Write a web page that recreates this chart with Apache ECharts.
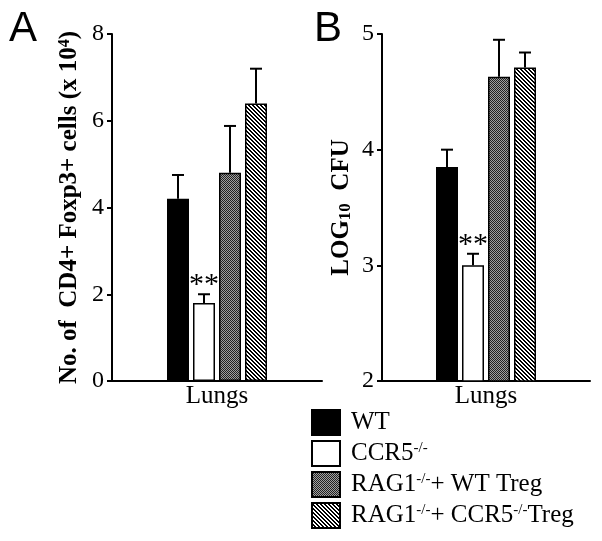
<!DOCTYPE html>
<html>
<head>
<meta charset="utf-8">
<script src="https://cdn.jsdelivr.net/npm/echarts@6/dist/echarts.min.js"></script>
<style>
  html, body { margin: 0; padding: 0; background: #fff; }
  #chart { width: 602px; height: 541px; }
</style>
</head>
<body>
<div id="chart"></div>
<script>
  var categories = ['Lungs'];
  var groups = ['WT', 'CCR5-/-', 'RAG1-/-+ WT Treg', 'RAG1-/-+ CCR5-/-Treg'];
  // panel A: No. of CD4+ Foxp3+ cells (x 10^4)
  var tregMean = [4.2, 1.8, 4.8, 6.4];
  var tregErr = [0.55, 0.2, 1.08, 0.8];
  // panel B: LOG10 CFU
  var cfuMean = [3.85, 3.0, 4.63, 4.71];
  var cfuErr = [0.15, 0.1, 0.32, 0.13];
  var starGroup = 1;

  var serif = 'Liberation Serif';
  var barW = 22, gapPx = 4;

  function dither() {
    var c = document.createElement('canvas');
    c.width = 4; c.height = 4;
    var g = c.getContext('2d');
    g.fillStyle = '#a0a0a0';
    g.fillRect(0, 0, 4, 4);
    g.fillStyle = '#222';
    for (var y = 0; y < 4; y++) {
      for (var x = 0; x < 4; x++) {
        if ((x + y) % 2 === 0 || (y === 3 && x === 1)) g.fillRect(x, y, 1, 1);
      }
    }
    return c;
  }
  function stripes() {
    var c = document.createElement('canvas');
    c.width = 4; c.height = 4;
    var g = c.getContext('2d');
    g.fillStyle = '#fff';
    g.fillRect(0, 0, 4, 4);
    g.fillStyle = '#000';
    for (var i = 0; i < 4; i++) {
      g.fillRect(i, i, 1, 1);
      g.fillRect(i, (i + 1) % 4, 1, 1);
    }
    return c;
  }

  var fills = [
    '#000',
    '#fff',
    { image: dither(), repeat: 'repeat' },
    { image: stripes(), repeat: 'repeat' }
  ];

  function barSeries(data, axisIdx) {
    return groups.map(function (name, i) {
      return {
        name: name,
        type: 'bar',
        xAxisIndex: axisIdx,
        yAxisIndex: axisIdx,
        barWidth: barW,
        barGap: (gapPx / barW * 100) + '%',
        data: [data[i]],
        itemStyle: { color: fills[i], borderColor: '#000', borderWidth: 1.5 },
        silent: true
      };
    });
  }

  function errSeries(mean, err, axisIdx) {
    return {
      type: 'custom',
      xAxisIndex: axisIdx,
      yAxisIndex: axisIdx,
      silent: true,
      z: 5,
      data: mean.map(function (m, i) { return [0, m, m + err[i], i]; }),
      renderItem: function (params, api) {
        var idx = api.value(3);
        var off = (idx - (groups.length - 1) / 2) * (barW + gapPx);
        var base = api.coord([api.value(0), api.value(1)]);
        var top = api.coord([api.value(0), api.value(2)]);
        var x = base[0] + off;
        var children = [
          { type: 'line', shape: { x1: x, y1: base[1], x2: x, y2: top[1] }, style: { stroke: '#000', lineWidth: 2 } },
          { type: 'line', shape: { x1: x - 6, y1: top[1], x2: x + 6, y2: top[1] }, style: { stroke: '#000', lineWidth: 2 } }
        ];
        if (idx === starGroup) {
          children.push({
            type: 'text',
            style: { text: '**', x: x, y: top[1] + 6, align: 'center', verticalAlign: 'bottom',
              font: '30px "Liberation Serif"', fill: '#000' }
          });
        }
        return { type: 'group', children: children };
      }
    };
  }

  var axisLine = { show: true, lineStyle: { color: '#000', width: 2 } };
  var letterStyle = { fontFamily: 'Liberation Sans', fontWeight: 'normal', fontSize: 42, color: '#000' };

  var chart = echarts.init(document.getElementById('chart'));
  chart.setOption({
    animation: false,
    backgroundColor: '#fff',
    title: [
      { text: 'A', left: 4, top: 3, textStyle: letterStyle },
      { text: 'B', left: 309, top: 3, textStyle: letterStyle }
    ],
    grid: [
      { left: 112, top: 34, right: 280, bottom: 160 },
      { left: 382, top: 34, right: 12, bottom: 160 }
    ],
    legend: {
      orient: 'vertical',
      left: 311,
      top: 409,
      bottom: 0,
      padding: 0,
      itemWidth: 28,
      itemHeight: 25,
      itemGap: 4,
      icon: 'rect',
      selectedMode: false,
      data: groups,
      formatter: function (name) {
        return name.replace(/-\/-/g, '{sup|-/-}');
      },
      textStyle: {
        fontFamily: serif,
        fontSize: 25,
        lineHeight: 25,
        color: '#000',
        padding: [0, 0, 0, 6],
        rich: {
          sup: { fontFamily: serif, fontSize: 15, color: '#000', verticalAlign: 'top', lineHeight: 15 }
        }
      }
    },
    xAxis: [0, 1].map(function (i) {
      return {
        type: 'category',
        gridIndex: i,
        data: categories,
        axisLine: axisLine,
        axisTick: { show: false },
        axisLabel: { fontFamily: serif, fontSize: 25, color: '#000', margin: 3 }
      };
    }),
    yAxis: [
      {
        type: 'value', gridIndex: 0, min: 0, max: 8, interval: 2,
        name: 'No. of  CD4+ Foxp3+ cells (x 10{sup|4})',
        nameLocation: 'middle', nameRotate: 90, nameGap: 30,
        nameTextStyle: {
          fontFamily: serif, fontWeight: 'bold', fontSize: 25, color: '#000',
          rich: { sup: { fontFamily: serif, fontWeight: 'bold', fontSize: 16, color: '#000', verticalAlign: 'top', lineHeight: 14 } }
        },
        axisLine: axisLine,
        axisTick: { show: true, length: 5, lineStyle: { color: '#000', width: 2 } },
        axisLabel: { fontFamily: serif, fontSize: 24, color: '#000', margin: 8 },
        splitLine: { show: false }
      },
      {
        type: 'value', gridIndex: 1, min: 2, max: 5, interval: 1,
        name: 'LOG{sub|10}  CFU',
        nameLocation: 'middle', nameRotate: 90, nameGap: 28,
        nameTextStyle: {
          fontFamily: serif, fontWeight: 'bold', fontSize: 25, color: '#000',
          rich: { sub: { fontFamily: serif, fontWeight: 'bold', fontSize: 17, color: '#000', verticalAlign: 'bottom', lineHeight: 17 } }
        },
        axisLine: axisLine,
        axisTick: { show: true, length: 5, lineStyle: { color: '#000', width: 2 } },
        axisLabel: { fontFamily: serif, fontSize: 24, color: '#000', margin: 8 },
        splitLine: { show: false }
      }
    ],
    series: barSeries(tregMean, 0)
      .concat(barSeries(cfuMean, 1))
      .concat([errSeries(tregMean, tregErr, 0), errSeries(cfuMean, cfuErr, 1)])
  });
</script>
</body>
</html>
